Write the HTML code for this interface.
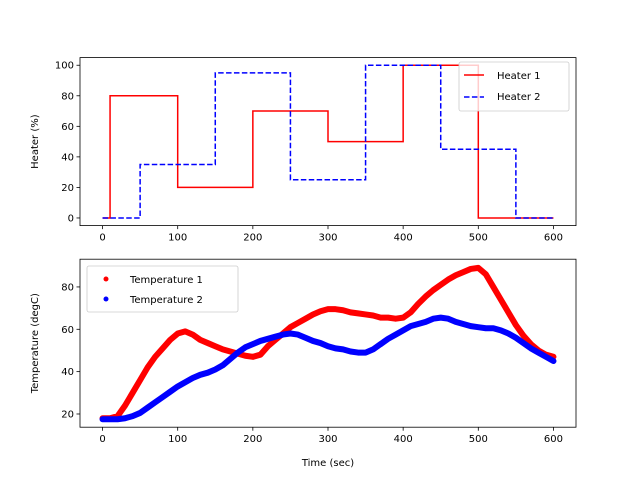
<!DOCTYPE html>
<html><head><meta charset="utf-8"><style>body{margin:0;background:#fff}svg{font-family:"DejaVu Sans","Liberation Sans",sans-serif}</style></head>
<body>
<svg id="c" width="640" height="480" xmlns="http://www.w3.org/2000/svg"></svg>
<script>
const xTicks=[0,100,200,300,400,500,600];
const heatTicks=[0,20,40,60,80,100];
const tempTicks=[20,40,60,80];
const h1Times=[0,10,100,200,300,400,500,600];
const h1Vals=[0,80,20,70,50,100,0,0];
const h2Times=[0,50,150,250,350,450,550,600];
const h2Vals=[0,35,95,25,100,45,0,0];
const tTimes=[0,10,20,30,40,50,60,70,80,90,100,110,120,130,140,150,160,170,180,190,200,210,220,230,240,250,260,270,280,290,300,310,320,330,340,350,360,370,380,390,400,410,420,430,440,450,460,470,480,490,500,510,520,530,540,550,560,570,580,590,600];
const t1Vals=[18,18,19,24,30,36,42,47,51,55,58,59,57.5,55,53.5,52,50.5,49.5,48.5,47.5,47,48,52,55,58,61,63,65,67,68.5,69.5,69.5,69,68,67.5,67,66.5,65.5,65.5,65,65.5,68,72,75.5,78.5,81,83.5,85.5,87,88.5,89,86,80,74,68,62,57,53,50,48,47];
const t2Vals=[17.5,17.5,17.5,18,19,20.5,23,25.5,28,30.5,33,35,37,38.5,39.5,41,43,46,49,51.5,53,54.5,55.5,56.5,57.5,58,57.5,56,54.5,53.5,52,51,50.5,49.5,49,49,50.5,53,55.5,57.5,59.5,61.5,62.5,63.5,65,65.5,65,63.5,62.5,61.5,61,60.5,60.5,59.5,58,56,53.5,51,49,47,45];

const NS="http://www.w3.org/2000/svg",svg=document.getElementById('c');
function mk(t,a,p){const e=document.createElementNS(NS,t);for(const k in a)e.setAttribute(k,a[k]);(p||svg).appendChild(e);return e;}
const L=80,R=576;
const sx=v=>L+(v+30)/660*(R-L);
const ax1={top:57.6,bot:225.6,min:-5,max:105};
const ax2={top:259.2,bot:427.2,min:13.76,max:93.1};
const sy=(a,v)=>a.bot-(v-a.min)/(a.max-a.min)*(a.bot-a.top);

function axes(a,ticks,name,label){
  const g=mk('g',{});
  
  
  ticks.forEach(t=>{const y=sy(a,t);
    mk('line',{x1:L-3.5,x2:L,y1:y,y2:y,stroke:'#000','stroke-width':0.8},g);
    const tx=mk('text',{x:L-6,y:y+3.5,'text-anchor':'end','font-size':10},g);tx.textContent=t;
    
    });
  xTicks.forEach(t=>{const x=sx(t);
    mk('line',{x1:x,x2:x,y1:a.bot,y2:a.bot+3.5,stroke:'#000','stroke-width':0.8},g);
    const tx=mk('text',{x:x,y:a.bot+15,'text-anchor':'middle','font-size':10},g);tx.textContent=t;
    
    });
  const cy=(a.top+a.bot)/2;
  const yl=mk('text',{x:0,y:0,transform:`translate(${L-42},${cy}) rotate(-90)`,'text-anchor':'middle','font-size':10},g);yl.textContent=label;
  
  
  return g;
}
function frame(a){const r=mk('rect',{x:L,y:a.top,width:R-L,height:a.bot-a.top,fill:'none',stroke:'#000','stroke-width':0.8});
  
  }
axes(ax1,heatTicks,'heater-axes','Heater (%)');
axes(ax2,tempTicks,'temperature-axes','Temperature (degC)');
const xl=mk('text',{x:(L+R)/2,y:466,'text-anchor':'middle','font-size':10});xl.textContent='Time (sec)';



function step(ts,vs){let d='';for(let i=0;i<ts.length;i++){const x=sx(ts[i]),y=sy(ax1,vs[i]);
  if(i===0)d+=`M${x},${y}`;else d+=`L${x},${sy(ax1,vs[i-1])}L${x},${y}`;}return d;}
const p1=mk('path',{d:step(h1Times,h1Vals),fill:'none',stroke:'#ff0000','stroke-width':1.5});


const p2=mk('path',{d:step(h2Times,h2Vals),fill:'none',stroke:'#0000ff','stroke-width':1.5,'stroke-dasharray':'5.5,2.4'});



function temp(vs,col,name){const pts=tTimes.map((t,i)=>sx(t)+','+sy(ax2,vs[i])).join(' ');
  const pl=mk('polyline',{points:pts,fill:'none',stroke:col,'stroke-width':6,'stroke-linejoin':'round','stroke-linecap':'round'});
  
  }
temp(t1Vals,'#ff0000','temperature-1-series');
temp(t2Vals,'#0000ff','temperature-2-series');
frame(ax1);frame(ax2);

// legends
const lg1=mk('g',{});


mk('rect',{x:459,y:62,width:110,height:49,rx:2,fill:'#fff','fill-opacity':0.8,stroke:'#ccc','stroke-width':0.8},lg1);
mk('line',{x1:464,x2:484,y1:75,y2:75,stroke:'#f00','stroke-width':1.5},lg1);
mk('line',{x1:464,x2:484,y1:97,y2:97,stroke:'#00f','stroke-width':1.5,'stroke-dasharray':'5.5,2.4'},lg1);
let t=mk('text',{x:497,y:79,'font-size':10},lg1);t.textContent='Heater 1';
t=mk('text',{x:497,y:100,'font-size':10},lg1);t.textContent='Heater 2';
const lg2=mk('g',{});


mk('rect',{x:87,y:266,width:151,height:46,rx:2,fill:'#fff','fill-opacity':0.8,stroke:'#ccc','stroke-width':0.8},lg2);
mk('circle',{cx:106,cy:279,r:2.5,fill:'#f00'},lg2);
mk('circle',{cx:106,cy:299,r:2.5,fill:'#00f'},lg2);
t=mk('text',{x:130,y:283,'font-size':10},lg2);t.textContent='Temperature 1';
t=mk('text',{x:130,y:303,'font-size':10},lg2);t.textContent='Temperature 2';
</script>
</body></html>
